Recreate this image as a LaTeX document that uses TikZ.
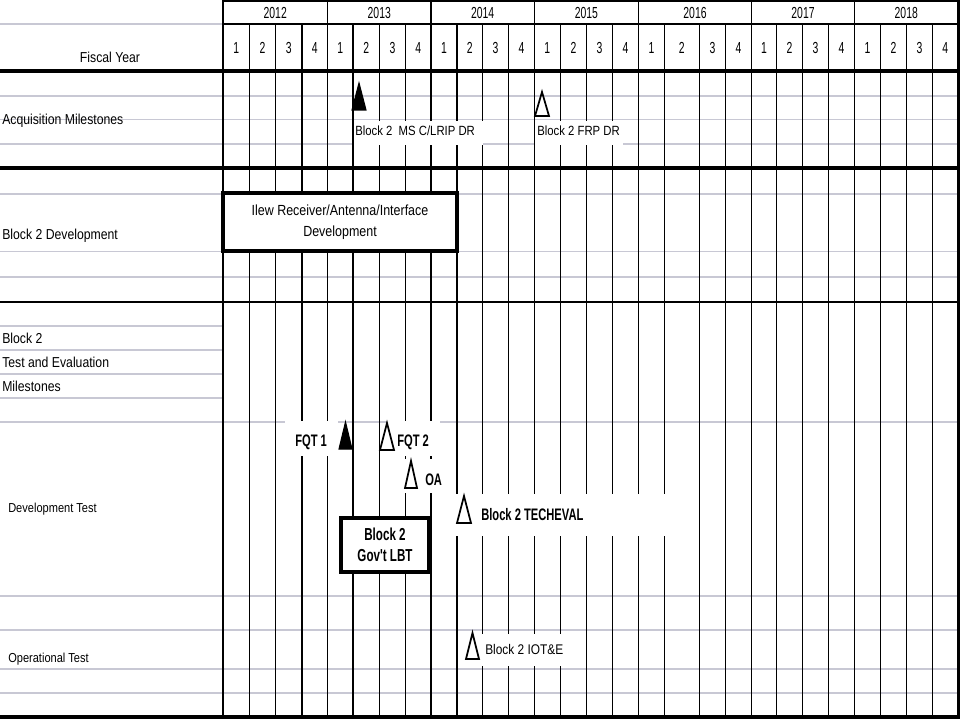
\documentclass[tikz,border=0pt]{standalone}
\usepackage{fontspec}
\setmainfont[FakeStretch=0.85]{Liberation Sans}
\newfontfamily\hdrfont[FakeStretch=0.65]{Liberation Sans}
\newfontfamily\bnfont[FakeStretch=0.67]{Liberation Sans}
\definecolor{gridgray}{RGB}{200,200,212}
\begin{document}
\begin{tikzpicture}[x=0.75pt,y=-0.75pt,
  qline/.style={line width=0.8pt,black},
  gline/.style={line width=1pt,gridgray},
  heavy/.style={line width=2.4pt,black},
  rowlbl/.style={anchor=base west,inner sep=0pt,font=\fontsize{10.8}{12}\selectfont},
  smlbl/.style={anchor=base west,inner sep=0pt,font=\fontsize{9.75}{12}\selectfont},
  hdr/.style={anchor=base,inner sep=0pt,font=\hdrfont\fontsize{12}{13}\selectfont},
  mslbl/.style={anchor=base west,inner sep=0pt,font=\fontsize{10}{12}\selectfont},
  blbl/.style={anchor=base west,inner sep=0pt,font=\bnfont\bfseries\fontsize{12.5}{14}\selectfont},
  mask/.style={fill=white},
  filltri/.style={fill=black,draw=black,line width=0.8pt,line join=miter},
  opentri/.style={draw=black,line width=1.3pt,line join=miter},
  barbox/.style={draw=black,line width=2.4pt,fill=white,inner sep=0pt,align=center}
]
\useasboundingbox (0,0) rectangle (960,720);
\fill[white] (0,0) rectangle (960,720);

% light grid rows
\draw[gline] (0,24) -- (223,24);
\foreach \y in {326,350,374,398}
  \draw[gline] (0,\y) -- (223,\y);
\foreach \y in {96,119.5,144,194,251.5,277,422,596,630,669,693}
  \draw[gline] (0,\y) -- (958,\y);

% header
\draw[qline] (223,1) -- (958,1);
\draw[qline] (223,24) -- (958,24);
\foreach \x in {327.5,431,534.3,638.5,751.5,854.5}
  \draw[qline] (\x,0) -- (\x,24);
\draw[qline] (223,0) -- (223,717);
\foreach \x in {249.5,275.5,302,327.5,353,379.5,405.5,431,457,482.5,508.5,534.3,560.3,586.5,612.5,638.5,664.3,699.3,725.5,751.5,776.7,802.5,828.5,854.5,880.3,906.5,932.5}
  \draw[qline] (\x,24) -- (\x,717);

% heavy section lines
\draw[heavy] (0,71) -- (958,71);
\draw[heavy] (0,168) -- (958,168);
\draw[line width=1.8pt] (0,302) -- (958,302);
\draw[line width=2.6pt] (0,717) -- (960,717);
\draw[line width=2pt] (958.5,0) -- (958.5,718);

% year labels
\foreach \a/\b/\yr in {223/327.5/2012,327.5/431/2013,431/534.3/2014,534.3/638.5/2015,638.5/751.5/2016,751.5/854.5/2017,854.5/958/2018}
  \node[hdr] (yr\yr) at ({(\a+\b)/2},18.5) {\yr};

% quarter labels
\foreach \a/\b/\n [count=\i] in {223/249.5/1,249.5/275.5/2,275.5/302/3,302/327.5/4,
  327.5/353/1,353/379.5/2,379.5/405.5/3,405.5/431/4,
  431/457/1,457/482.5/2,482.5/508.5/3,508.5/534.3/4,
  534.3/560.3/1,560.3/586.5/2,586.5/612.5/3,612.5/638.5/4,
  638.5/664.3/1,664.3/699.3/2,699.3/725.5/3,725.5/751.5/4,
  751.5/776.7/1,776.7/802.5/2,802.5/828.5/3,828.5/854.5/4,
  854.5/880.3/1,880.3/906.5/2,906.5/932.5/3,932.5/958/4}
  \node[hdr] (q\i) at ({(\a+\b)/2},53.5) {\n};

% row labels
\node[anchor=base,inner sep=0pt,font=\fontsize{10.8}{12}\selectfont] (fy) at (110,63) {Fiscal Year};
\node[rowlbl] (acq) at (2,124.5) {Acquisition Milestones};
\node[rowlbl] (dev) at (2,239.5) {Block 2 Development};
\node[rowlbl] (te1) at (2,343) {Block 2};
\node[rowlbl] (te2) at (2,367) {Test and Evaluation};
\node[rowlbl] (te3) at (2,391) {Milestones};
\node[smlbl] (dt) at (8,512) {Development Test};
\node[smlbl] (ot) at (8,662) {Operational Test};

% white label backgrounds
\fill[mask] (353.5,121) rectangle (483,145);
\fill[mask] (535,121) rectangle (623,145);
\fill[mask] (285,421) rectangle (338,456);
\fill[mask] (387,421) rectangle (440,456);
\fill[mask] (404,459) rectangle (455,493);
\fill[mask] (456,494) rectangle (695,536);
\fill[mask] (482,634) rectangle (566,666);

% acquisition milestones
\draw[filltri] (359,83) -- (366,110) -- (352,110) -- cycle;
\node[mslbl] (msc) at (355,136) {Block 2\ \ MS C/LRIP DR};
\draw[opentri] (542,92) -- (549,116) -- (535,116) -- cycle;
\node[mslbl] (frp) at (537,136) {Block 2 FRP DR};

% development bar
\node[barbox,minimum width=175.5pt,minimum height=43.5pt,
  font=\fontsize{11}{15.75}\selectfont] (newrx) at (340,222)
  {Ilew Receiver/Antenna/Interface\\Development};

% development test
\node[blbl] (fqt1) at (295,446.5) {FQT 1};
\draw[filltri] (345.5,422) -- (352,449) -- (339,449) -- cycle;
\draw[opentri] (387,423) -- (394,450) -- (380,450) -- cycle;
\node[blbl] (fqt2) at (397,446.5) {FQT 2};
\draw[opentri] (411,461) -- (417,488) -- (405,488) -- cycle;
\node[blbl] (oa) at (425,485) {OA};
\draw[opentri] (464,496) -- (471,523) -- (457,523) -- cycle;
\node[blbl] (tech) at (481,520.5) {Block 2 TECHEVAL};
\node[barbox,minimum width=66pt,minimum height=40.5pt,
  font=\bnfont\bfseries\fontsize{13}{15.75}\selectfont] (lbt) at (385,545)
  {Block 2\\Gov't LBT};

% operational test
\draw[opentri] (472.5,633) -- (479,659) -- (466,659) -- cycle;
\node[mslbl,font=\fontsize{10.5}{12}\selectfont] (iot) at (485,654) {Block 2 IOT\&E};
\end{tikzpicture}
\end{document}
